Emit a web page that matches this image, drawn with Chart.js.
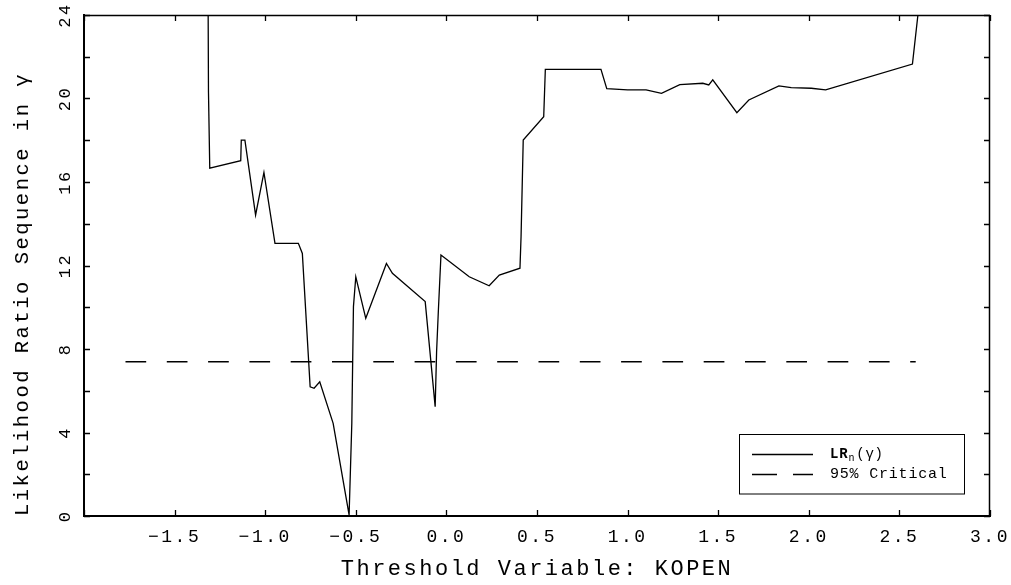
<!DOCTYPE html>
<html><head><meta charset="utf-8">
<script src="https://cdn.jsdelivr.net/npm/chart.js@4.4.1/dist/chart.umd.min.js"></script>
<style>html,body{margin:0;padding:0;background:#fff;}#wrap{width:1011px;height:585px;}</style>
</head><body><div id="wrap"><canvas id="c" width="1011" height="585"></canvas></div>
<script>
// ---- data ----
const thresholdX = [-1.316,-1.313,-1.306,-1.135,-1.132,-1.112,-1.053,-1.007,-0.946,-0.817,-0.795,-0.752,-0.730,-0.699,-0.625,-0.537,-0.522,-0.513,-0.500,-0.445,-0.331,-0.298,-0.117,-0.062,-0.054,-0.044,-0.030,0.126,0.236,0.292,0.406,0.412,0.424,0.537,0.546,0.853,0.885,1.000,1.102,1.187,1.288,1.415,1.448,1.470,1.603,1.669,1.835,1.903,2.014,2.093,2.572,2.606];
const lrValues   = [26.5,20.3,16.66,17.02,18.01,18.01,14.42,16.46,13.06,13.06,12.58,6.19,6.12,6.43,4.44,0.05,4.44,10.03,11.46,9.47,12.10,11.63,10.27,5.24,7.90,9.90,12.50,11.46,11.03,11.54,11.87,13.38,18.01,19.13,21.40,21.40,20.47,20.41,20.41,20.25,20.66,20.73,20.65,20.89,19.32,19.93,20.60,20.52,20.49,20.41,21.65,24.3];
const criticalX = [-1.771, 2.59];
const criticalY = [7.39, 7.39];
const xTicks = [-2.0,-1.5,-1.0,-0.5,0.0,0.5,1.0,1.5,2.0,2.5,3.0];
const xLabelledTicks = [-1.5,-1.0,-0.5,0.0,0.5,1.0,1.5,2.0,2.5,3.0];
const yTicks = [0,2,4,6,8,10,12,14,16,18,20,22,24];
const yLabelledTicks = [0,4,8,12,16,20,24];
const seriesLabels = ['LRn(\u03B3)', '95% Critical'];
const xTitle = 'Threshold Variable: KOPEN';
const yTitle = 'Likelihood Ratio Sequence in \u03B3';

const FONT = "'Liberation Mono', 'Courier New', monospace";

const spacingPlugin = {
  id: 'spacing',
  beforeLayout(chart){ chart.ctx.letterSpacing = '2.5px'; },
  beforeDraw(chart){ chart.ctx.letterSpacing = '2.5px'; }
};

const framePlugin = {
  id: 'frame',
  afterDraw(chart){
    const {ctx, chartArea: a, scales: {x, y}} = chart;
    ctx.save();
    ctx.letterSpacing = '0px';
    ctx.setLineDash([]);
    ctx.strokeStyle = '#000';
    ctx.lineWidth = 1.5;
    ctx.beginPath();
    ctx.moveTo(a.left, a.top + 0.5); ctx.lineTo(a.right, a.top + 0.5);
    ctx.moveTo(a.right - 0.5, a.top); ctx.lineTo(a.right - 0.5, a.bottom);
    ctx.stroke();
    ctx.lineWidth = 1.3;
    ctx.beginPath();
    x.ticks.forEach(t => {
      const px = Math.round(x.getPixelForValue(t.value)) + 0.5;
      ctx.moveTo(px, a.bottom); ctx.lineTo(px, a.bottom - 6);
      ctx.moveTo(px, a.top); ctx.lineTo(px, a.top + 6);
    });
    y.ticks.forEach(t => {
      const py = Math.round(y.getPixelForValue(t.value)) + 0.5;
      ctx.moveTo(a.left, py); ctx.lineTo(a.left + 6, py);
      ctx.moveTo(a.right, py); ctx.lineTo(a.right - 6, py);
    });
    ctx.stroke();

    // legend box (inside the plot, lower right)
    const bx = 739.5, by = 434.5, bw = 225, bh = 59.5;
    ctx.lineWidth = 1;
    ctx.strokeRect(bx, by, bw, bh);
    const ds = chart.data.datasets;
    ctx.lineWidth = ds[0].borderWidth;
    ctx.beginPath(); ctx.moveTo(752, 454.5); ctx.lineTo(813, 454.5); ctx.stroke();
    ctx.beginPath(); ctx.moveTo(752, 474.5); ctx.lineTo(777, 474.5); ctx.moveTo(793, 474.5); ctx.lineTo(813, 474.5); ctx.stroke();
    ctx.fillStyle = '#000';
    ctx.textBaseline = 'middle';
    ctx.textAlign = 'left';
    ctx.letterSpacing = '0.8px';
    const lab0 = ds[0].label; // 'LRn(γ)'
    ctx.font = "bold 14px " + FONT;
    const main = lab0.slice(0, 2);
    ctx.fillText(main, 830, 454);
    let cx = 830 + ctx.measureText(main).width;
    ctx.font = "10px " + FONT;
    ctx.fillText(lab0.slice(2, 3), cx, 458);
    cx += ctx.measureText(lab0.slice(2, 3)).width + 1;
    ctx.font = "14px " + FONT;
    ctx.fillText(lab0.slice(3), cx, 454);
    ctx.font = "15px " + FONT;
    ctx.fillText(ds[1].label, 830, 474);
    ctx.restore();
  }
};

const fmt = v => (v < 0 ? '\u2212' : '') + Math.abs(v).toFixed(1);

new Chart(document.getElementById('c'), {
  type: 'line',
  data: {
    datasets: [
      {
        label: seriesLabels[0],
        data: thresholdX.map((v, i) => ({x: v, y: lrValues[i]})),
        borderColor: '#000', borderWidth: 1.3, pointRadius: 0, tension: 0, fill: false
      },
      {
        label: seriesLabels[1],
        data: criticalX.map((v, i) => ({x: v, y: criticalY[i]})),
        borderColor: '#000', borderWidth: 1.3, pointRadius: 0, tension: 0, fill: false,
        borderDash: [20.7, 20.6]
      }
    ]
  },
  options: {
    responsive: false,
    animation: false,
    devicePixelRatio: 1,
    layout: {padding: {top: 15, right: 21, left: 0, bottom: 0}},
    plugins: {legend: {display: false}, tooltip: {enabled: false}},
    scales: {
      x: {
        type: 'linear', min: -2, max: 3,
        afterBuildTicks: s => { s.ticks = xTicks.map(v => ({value: v})); },
        afterFit: s => { s.height = 69; s.paddingLeft = 0; s.paddingRight = 0; },
        grid: {display: false, drawTicks: false},
        border: {display: true, width: 2, color: '#000'},
        ticks: {
          autoSkip: false, maxRotation: 0, minRotation: 0, padding: 10, color: '#000',
          font: {family: FONT, size: 18},
          callback: v => xLabelledTicks.some(t => Math.abs(t - v) < 1e-9) ? fmt(v) : ''
        },
        title: {display: true, text: xTitle, color: '#000', font: {family: FONT, size: 22}, padding: {top: 0, bottom: 3}}
      },
      y: {
        type: 'linear', min: 0, max: 24,
        afterBuildTicks: s => { s.ticks = yTicks.map(v => ({value: v})); },
        afterFit: s => { s.width = 84; s.paddingTop = 0; s.paddingBottom = 0; },
        grid: {display: false, drawTicks: false},
        border: {display: true, width: 2, color: '#000'},
        ticks: {
          autoSkip: false, minRotation: 90, maxRotation: 90, crossAlign: 'center', padding: 6, color: '#000',
          font: {family: FONT, size: 17},
          callback: v => yLabelledTicks.includes(v) ? String(v) : ''
        },
        title: {display: true, text: yTitle, align: 'start', color: '#000', font: {family: FONT, size: 20.5}, padding: {top: 10, bottom: 0}}
      }
    }
  },
  plugins: [spacingPlugin, framePlugin]
});
</script>
</body></html>
